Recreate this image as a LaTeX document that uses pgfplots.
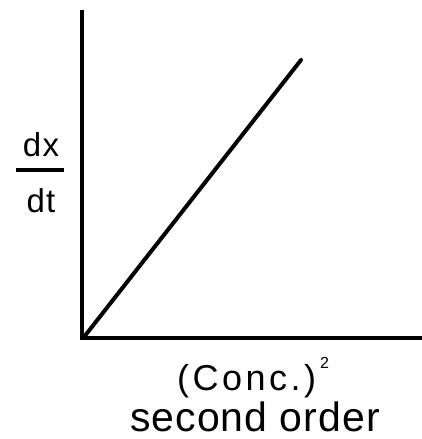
\documentclass[border=0pt]{standalone}
\usepackage{pgfplots}
\pgfplotsset{compat=1.18}
\usepackage{fontspec}
\setmainfont{Liberation Sans}
\newfontfamily\wideB[LetterSpace=2.5]{Liberation Sans}
\newfontfamily\wideC[LetterSpace=4]{Liberation Sans}
\newcommand{\kk}{\kern3.5pt}
\begin{document}
\begin{tikzpicture}
\useasboundingbox (-82pt,-101pt) rectangle (339pt,338pt);
\begin{axis}[
  scale only axis,
  width=339pt, height=326pt,
  xmin=0, xmax=339, ymin=0, ymax=326,
  axis x line*=bottom, axis y line*=left,
  xtick=\empty, ytick=\empty,
  axis line style={line width=4pt, line cap=rect},
  clip=false,
]
\addplot[black, line width=4pt, line cap=round] coordinates {(2,1) (219,278)};
\node[anchor=base, inner sep=0pt, font=\wideC\fontsize{33}{33}\selectfont] at (axis cs:-41,181) {dx};
\draw[line width=4pt] (axis cs:-66,168) -- (axis cs:-18,168);
\node[anchor=base, inner sep=0pt, font=\wideC\fontsize{33}{33}\selectfont] at (axis cs:-41,125) {dt};
\node[anchor=base west, inner sep=0pt, font=\fontsize{36}{36}\selectfont] at (axis cs:95,-52) {(\kk C\kk o\kk n\kk c\kk .\kk )\kern4pt\raisebox{22pt}{\fontsize{16}{16}\selectfont 2}};
\node[anchor=base, inner sep=0pt, font=\wideB\fontsize{41}{41}\selectfont] at (axis cs:173,-93) {second order};
\end{axis}
\end{tikzpicture}
\end{document}
